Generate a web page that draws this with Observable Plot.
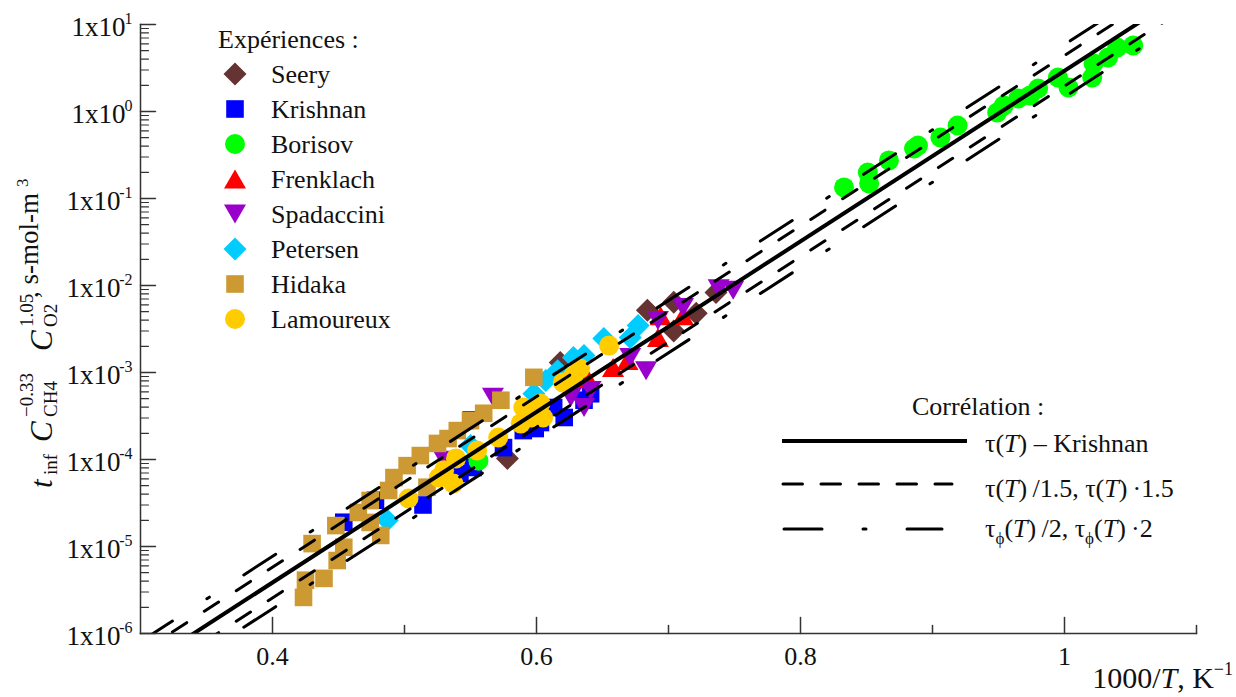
<!DOCTYPE html>
<html><head><meta charset="utf-8">
<script src="https://cdn.jsdelivr.net/npm/d3@7"></script>
<script src="https://cdn.jsdelivr.net/npm/@observablehq/plot@0.6"></script>
<style>body{margin:0;background:#fff;} svg{display:block}</style>
</head><body><div id="chart"></div>
<script>
// ---------- data ----------
const seeryX = [0.578, 0.618, 0.684, 0.704, 0.704, 0.721, 0.736];
const seeryY = [1.03e-4, 1.30e-3, 5.2e-3, 6.4e-3, 3.0e-3, 4.8e-3, 8.3e-3];

const krishnanX = [0.454, 0.478, 0.514, 0.542, 0.552, 0.575, 0.590, 0.599, 0.603, 0.613, 0.621, 0.636, 0.641];
const krishnanY = [1.9e-5, 3.4e-5, 3.0e-5, 6.9e-5, 8.1e-5, 1.37e-4, 2.15e-4, 2.27e-4, 2.66e-4, 3.96e-4, 3.04e-4, 4.8e-4, 5.7e-4];

const borisovX = [0.556, 0.833, 0.851, 0.852, 0.867, 0.886, 0.889, 0.906, 0.919, 0.949, 0.954, 0.965, 0.974, 0.980, 0.995, 1.003, 1.021, 1.022, 1.033, 1.040, 1.052];
const borisovY = [9.7e-5, 0.134, 0.199, 0.149, 0.274, 0.376, 0.406, 0.502, 0.69, 0.975, 1.17, 1.41, 1.53, 1.84, 2.46, 1.89, 2.46, 3.57, 4.18, 5.44, 5.74];

const frenklachX = [0.639, 0.658, 0.669, 0.692, 0.694, 0.711];
const frenklachY = [8.5e-4, 1.14e-3, 1.37e-3, 2.52e-3, 4.5e-3, 4.5e-3];

const spadacciniX = [0.530, 0.552, 0.567, 0.626, 0.636, 0.641, 0.671, 0.683, 0.692, 0.711, 0.738, 0.749];
const spadacciniY = [9.8e-5, 2.8e-4, 5.2e-4, 5.2e-4, 3.96e-4, 6.2e-4, 1.49e-3, 1.05e-3, 3.96e-3, 5.6e-3, 9.2e-3, 8.8e-3];

const petersenX = [0.487, 0.550, 0.598, 0.607, 0.616, 0.628, 0.636, 0.651, 0.671, 0.677];
const petersenY = [2.0e-5, 1.45e-4, 5.7e-4, 8.1e-4, 1.05e-3, 1.49e-3, 1.57e-3, 2.46e-3, 2.52e-3, 3.47e-3];

const hidakaX = [0.4235, 0.425, 0.439, 0.430, 0.448, 0.449, 0.454, 0.465, 0.482, 0.474, 0.474, 0.488, 0.492, 0.502, 0.512, 0.517, 0.525, 0.533, 0.540, 0.550, 0.560, 0.573, 0.598];
const hidakaY = [2.6e-6, 4.1e-6, 4.3e-6, 1.08e-5, 1.74e-5, 6.9e-6, 9.8e-6, 2.46e-5, 1.34e-5, 1.89e-5, 3.38e-5, 4.4e-5, 6.2e-5, 8.5e-5, 1.11e-4, 4.8e-5, 1.53e-4, 1.74e-4, 2.15e-4, 2.8e-4, 3.4e-4, 4.8e-4, 8.8e-4];

const lamoureuxX = [0.503, 0.526, 0.530, 0.537, 0.539, 0.555, 0.571, 0.588, 0.590, 0.596, 0.603, 0.605, 0.620, 0.628, 0.633, 0.655];
const lamoureuxY = [3.56e-5, 6.2e-5, 7.5e-5, 5.3e-5, 1.03e-4, 1.27e-4, 1.79e-4, 2.6e-4, 3.96e-4, 3.04e-4, 4.4e-4, 3.04e-4, 7.7e-4, 9.2e-4, 1.11e-3, 2.04e-3];

// correlation tau(T) - Krishnan, end points of the straight line (log scale)
const corrX = [0.30, 1.078];
const corrY = [4.03e-7, 17.1];
const dashFactors = [1 / 1.5, 1.5];
const dashDotFactors = [1 / 2, 2];

// ticks
const xMajor = [0.4, 0.6, 0.8, 1.0];
const xMajorLabels = ["0.4", "0.6", "0.8", "1"];
const xMinor = [0.5, 0.7, 0.9, 1.1];
const yDecadesPos = [0, 1];
const yDecadesNeg = [-6, -5, -4, -3, -2, -1];
const yMinorMant = [2, 3, 4, 5, 6, 7, 8, 9];
const yMinorDecades = [-6, -5, -4, -3, -2, -1, 0];

// ---------- symbols ----------
const symDiamond = {draw(c) { const h = 11.5; c.moveTo(0, -h); c.lineTo(h, 0); c.lineTo(0, h); c.lineTo(-h, 0); c.closePath(); }};
const symSquare = {draw(c) { const h = 8.8; c.moveTo(-h, -h); c.lineTo(h, -h); c.lineTo(h, h); c.lineTo(-h, h); c.closePath(); }};
const symCircle = {draw(c) { c.moveTo(10, 0); c.arc(0, 0, 10, 0, 2 * Math.PI); c.closePath(); }};
const symUp = {draw(c) { c.moveTo(0, -9.5); c.lineTo(11, 9.5); c.lineTo(-11, 9.5); c.closePath(); }};
const symDown = {draw(c) { c.moveTo(0, 9.5); c.lineTo(11, -9.5); c.lineTo(-11, -9.5); c.closePath(); }};

const series = [
  {name: "Seery", x: seeryX, y: seeryY, symbol: symDiamond, color: "#663333"},
  {name: "Krishnan", x: krishnanX, y: krishnanY, symbol: symSquare, color: "#0000ff"},
  {name: "Borisov", x: borisovX, y: borisovY, symbol: symCircle, color: "#00ff00"},
  {name: "Frenklach", x: frenklachX, y: frenklachY, symbol: symUp, color: "#ff0000"},
  {name: "Spadaccini", x: spadacciniX, y: spadacciniY, symbol: symDown, color: "#9900cc"},
  {name: "Petersen", x: petersenX, y: petersenY, symbol: symDiamond, color: "#00ccff"},
  {name: "Hidaka", x: hidakaX, y: hidakaY, symbol: symSquare, color: "#cc9933"},
  {name: "Lamoureux", x: lamoureuxX, y: lamoureuxY, symbol: symCircle, color: "#ffcc00"}
];

const yMinor = [];
for (const d of yMinorDecades) for (const m of yMinorMant) yMinor.push(m * Math.pow(10, d));

const axisColor = "#333";
const tickShape = {draw(c, l) { c.moveTo(0, 0); c.lineTo(0, -l); }};
const FONT = "Liberation Serif, Times New Roman, serif";

const marks = [];
for (const s of series) {
  const data = s.x.map((x, i) => ({x, y: s.y[i]}));
  marks.push(Plot.dot(data, {x: "x", y: "y", symbol: s.symbol, fill: s.color, r: 10}));
}
const corrData = corrX.map((x, i) => ({x, y: corrY[i]}));
marks.push(Plot.line(corrData, {x: "x", y: "y", stroke: "black", strokeWidth: 4, strokeLinecap: "butt", clip: true}));
for (const f of dashFactors)
  marks.push(Plot.line(corrData, {x: "x", y: d => d.y * f, stroke: "black", strokeWidth: 3, strokeLinecap: "round", strokeDasharray: "17,21", clip: true}));
for (const f of dashDotFactors)
  marks.push(Plot.line(corrData, {x: "x", y: d => d.y * f, stroke: "black", strokeWidth: 3, strokeLinecap: "round", strokeDasharray: "38,41,3,41", clip: true}));

// axes
marks.push(Plot.frame({anchor: "left", stroke: axisColor, strokeWidth: 1.5}));
marks.push(Plot.frame({anchor: "bottom", stroke: axisColor, strokeWidth: 1.5}));
marks.push(Plot.vector(xMajor, {x: d => d, y: 1e-6, length: 16, rotate: 0, anchor: "start", shape: tickShape, stroke: axisColor, strokeWidth: 1.5}));
marks.push(Plot.vector(xMinor, {x: d => d, y: 1e-6, length: 8, rotate: 0, anchor: "start", shape: tickShape, stroke: axisColor, strokeWidth: 1.5}));
marks.push(Plot.vector(yDecadesNeg.concat(yDecadesPos), {x: 0.3, y: d => Math.pow(10, d), length: 15, rotate: 90, anchor: "start", shape: tickShape, stroke: axisColor, strokeWidth: 1.5}));
marks.push(Plot.vector(yMinor, {x: 0.3, y: d => d, length: 8, rotate: 90, anchor: "start", shape: tickShape, stroke: axisColor, strokeWidth: 1.2}));
marks.push(Plot.text(xMajor, {x: d => d, y: 1e-6, text: (d, i) => xMajorLabels[i], lineAnchor: "top", dy: 13, fontSize: 26, fill: "#111"}));
marks.push(Plot.text(yDecadesPos, {x: 0.3, y: d => Math.pow(10, d), text: () => "1x10", textAnchor: "end", dx: -15, dy: 3, fontSize: 27, fill: "#111"}));
marks.push(Plot.text(yDecadesNeg, {x: 0.3, y: d => Math.pow(10, d), text: () => "1x10", textAnchor: "end", dx: -20, dy: 3, fontSize: 27, fill: "#111"}));
marks.push(Plot.text(yDecadesNeg.concat(yDecadesPos), {x: 0.3, y: d => Math.pow(10, d), text: d => String(d), textAnchor: "end", dx: -8, dy: -6, fontSize: 16, fill: "#111"}));

const svg = Plot.plot({
  width: 1236, height: 697,
  marginLeft: 140, marginRight: 40, marginTop: 24, marginBottom: 64,
  x: {domain: [0.3, 1.1], axis: null},
  y: {type: "log", domain: [1e-6, 10], axis: null},
  style: {fontFamily: FONT, background: "white", color: "#111"},
  marks
});
document.getElementById("chart").appendChild(svg);

const S = d3.select(svg);

// Y title
const yt = S.append("text").attr("transform", "translate(52,490) rotate(-90)")
  .attr("font-family", FONT).attr("fill", "#111").attr("text-anchor", "start");
[
  {t: "t", x: 2, y: 0, fs: 31, it: true},
  {t: "inf", x: 15, y: 5, fs: 19},
  {t: "C", x: 48, y: 0, fs: 31, it: true},
  {t: "\u22120.33", x: 73, y: -19, fs: 19},
  {t: "CH4", x: 73, y: 5, fs: 19},
  {t: "C", x: 139, y: 0, fs: 31, it: true},
  {t: "1.05", x: 163, y: -19, fs: 19},
  {t: "O2", x: 163, y: 5, fs: 19},
  {t: ", s-mol-m", x: 192, y: -14, fs: 27},
  {t: "3", x: 303, y: -24, fs: 17}
].forEach(p => {
  yt.append("tspan").attr("x", p.x).attr("y", p.y).attr("font-size", p.fs)
    .attr("font-style", p.it ? "italic" : null).text(p.t);
});

// X title
const xt = S.append("text").attr("x", 1233).attr("y", 688).attr("text-anchor", "end")
  .attr("font-family", FONT).attr("font-size", 30).attr("fill", "#111");
xt.append("tspan").text("1000/");
xt.append("tspan").attr("font-style", "italic").text("T");
xt.append("tspan").text(", K");
xt.append("tspan").attr("font-size", 18).attr("dy", -13).text("\u22121");

// Legend: Expériences
const lg = S.append("g").attr("font-family", FONT).attr("font-size", 26).attr("fill", "#111").attr("text-anchor", "start");
lg.append("text").attr("x", 218).attr("y", 48).text("Expériences :");
series.forEach((s, i) => {
  const yb = 83 + 35 * i;
  lg.append("path").attr("transform", `translate(235,${yb - 9})`)
    .attr("d", d3.symbol(s.symbol, 100)()).attr("fill", s.color);
  lg.append("text").attr("x", 271).attr("y", yb).text(s.name);
});

// Legend: Corrélation
const lc = S.append("g").attr("font-family", FONT).attr("font-size", 26).attr("fill", "#111").attr("text-anchor", "start");
lc.append("text").attr("x", 912).attr("y", 415).text("Corrélation :");
lc.append("line").attr("x1", 782).attr("x2", 967).attr("y1", 441).attr("y2", 441)
  .attr("stroke", "black").attr("stroke-width", 4);
lc.append("line").attr("x1", 783).attr("x2", 952).attr("y1", 484).attr("y2", 484)
  .attr("stroke", "black").attr("stroke-width", 3).attr("stroke-linecap", "round").attr("stroke-dasharray", "19.5,18.5");
lc.append("line").attr("x1", 784).attr("x2", 942).attr("y1", 529).attr("y2", 529)
  .attr("stroke", "black").attr("stroke-width", 3).attr("stroke-linecap", "round").attr("stroke-dasharray", "38,41,3,41");
function legText(y, parts) {
  const t = lc.append("text").attr("x", 985).attr("y", y);
  parts.forEach(p => {
    const sp = t.append("tspan").text(p.t);
    if (p.it) sp.attr("font-style", "italic");
    if (p.sub) sp.attr("font-size", 17).attr("dy", 7);
    if (p.back) sp.attr("dy", -7);
  });
}
legText(452, [{t: "\u03c4("}, {t: "T", it: true}, {t: ") \u2013 Krishnan"}]);
legText(497, [{t: "\u03c4("}, {t: "T", it: true}, {t: ")\u2009/1.5, \u03c4("}, {t: "T", it: true}, {t: ")\u2009\u00b71.5"}]);
legText(537, [{t: "\u03c4"}, {t: "\u03d5", sub: true}, {t: "(", back: true}, {t: "T", it: true}, {t: ")\u2009/2, \u03c4"}, {t: "\u03d5", sub: true}, {t: "(", back: true}, {t: "T", it: true}, {t: ")\u2009\u00b72"}]);
</script></body></html>
